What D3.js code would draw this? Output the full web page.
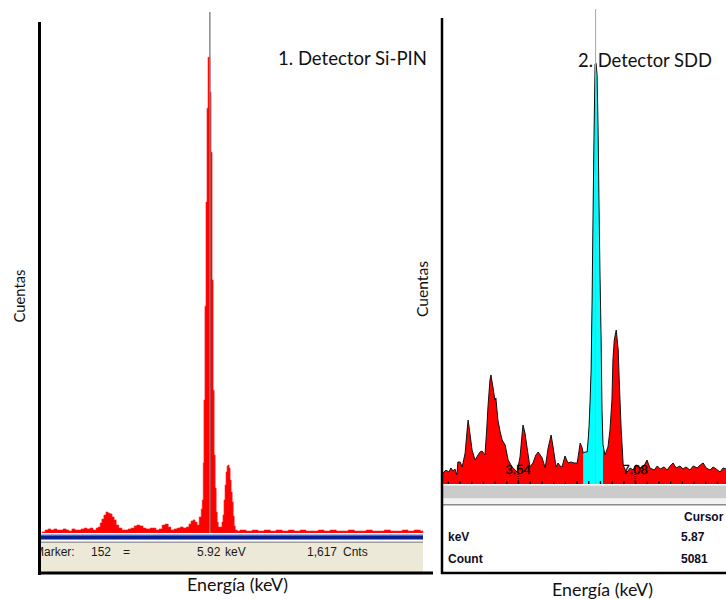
<!DOCTYPE html>
<html>
<head>
<meta charset="utf-8">
<script src="https://cdn.jsdelivr.net/npm/d3@7"></script>
<style>
  body { margin: 0; background: #fff; }
  svg { display: block; }
</style>
</head>
<body>
<svg id="chart" width="726" height="599"></svg>
<script>
// ---- panel 1: Si-PIN spectrum (keV, counts) ----
const p1Kev = [1.00, 1.09, 1.18, 1.26, 1.35, 1.44, 1.53, 1.62, 1.71, 1.79, 1.88, 1.97, 2.06, 2.15, 2.24, 2.32,
  2.41, 2.50, 2.59, 2.65, 2.71, 2.76, 2.82, 2.88, 2.94, 3.00, 3.06, 3.12, 3.18, 3.26, 3.35, 3.44, 3.53, 3.62,
  3.71, 3.79, 3.88, 3.97, 4.06, 4.18, 4.26, 4.35, 4.44, 4.53, 4.62, 4.71, 4.79, 4.88, 4.97, 5.06, 5.15, 5.24,
  5.32, 5.38, 5.44, 5.50, 5.56, 5.62, 5.68, 5.71, 5.74, 5.76, 5.79, 5.82, 5.85, 5.88, 5.94, 5.97, 6.00, 6.03,
  6.06, 6.09, 6.12, 6.15, 6.18, 6.29, 6.32, 6.35, 6.38, 6.41, 6.44, 6.47, 6.50, 6.53, 6.56, 6.59, 6.62, 6.65,
  6.68, 6.74, 6.82, 7.00, 7.18, 7.35, 7.53, 7.71, 7.88, 8.06, 8.24, 8.41, 8.59, 8.76, 8.94, 9.12, 9.29, 9.47,
  9.65, 9.82, 10.00, 10.18, 10.35, 10.53, 10.71, 10.88, 11.06, 11.24, 11.41, 11.59, 11.76, 11.94, 12.12, 12.20];
const p1Counts = [4, 11, 15, 11, 15, 11, 11, 15, 11, 7, 15, 11, 11, 15, 18, 15,
  18, 11, 18, 22, 37, 51, 66, 77, 73, 70, 59, 48, 29, 18, 11, 11, 15, 18,
  26, 29, 26, 18, 15, 18, 18, 11, 15, 29, 33, 22, 11, 15, 18, 22, 18, 22,
  33, 44, 48, 40, 29, 59, 88, 121, 257, 488, 832, 1214, 1558, 1745, 1617, 1397, 928, 524,
  286, 165, 77, 40, 22, 40, 66, 121, 176, 224, 246, 249, 238, 194, 150, 114, 62, 26,
  11, 7, 11, 7, 11, 7, 11, 7, 11, 7, 11, 7, 11, 7, 7, 11, 7, 11,
  7, 7, 11, 7, 7, 11, 7, 7, 11, 7, 7, 11, 7, 11, 7, 7];
const p1Marker = { channel: 152, kev: 5.92, counts: 1617 };

// ---- panel 2: SDD spectrum (keV, counts) ----
const p2Kev = [1.27, 1.36, 1.45, 1.51, 1.57, 1.63, 1.69, 1.72, 1.79, 1.85, 1.94, 2.00, 2.03, 2.09, 2.15, 2.24,
  2.33, 2.39, 2.45, 2.54, 2.60, 2.63, 2.69, 2.72, 2.78, 2.84, 2.87, 2.93, 3.00, 3.06, 3.15, 3.24, 3.36, 3.45,
  3.51, 3.60, 3.66, 3.69, 3.75, 3.81, 3.90, 3.99, 4.08, 4.15, 4.21, 4.27, 4.36, 4.45, 4.54, 4.60, 4.69, 4.75,
  4.81, 4.87, 4.96, 5.05, 5.14, 5.23, 5.33, 5.42, 5.48, 5.51, 5.57, 5.63, 5.66, 5.69, 5.72, 5.75, 5.78, 5.81,
  5.84, 5.87, 5.90, 5.93, 5.96, 5.99, 6.02, 6.05, 6.08, 6.11, 6.17, 6.26, 6.32, 6.38, 6.41, 6.45, 6.51, 6.57,
  6.60, 6.63, 6.66, 6.69, 6.72, 6.78, 6.84, 6.93, 7.02, 7.11, 7.23, 7.35, 7.44, 7.53, 7.66, 7.75, 7.84, 7.96,
  8.05, 8.14, 8.23, 8.32, 8.44, 8.53, 8.62, 8.74, 8.84, 8.96, 9.05, 9.14, 9.23, 9.35, 9.44, 9.53, 9.65, 9.74, 9.83];
const p2Counts = [133, 169, 145, 194, 157, 182, 109, 266, 266, 206, 375, 653, 774, 593, 411, 290,
  351, 387, 399, 351, 714, 932, 1258, 1319, 1174, 1016, 1041, 774, 629, 532, 472, 290, 206, 169,
  145, 327, 593, 714, 617, 448, 206, 254, 351, 387, 351, 315, 194, 436, 593, 448, 206, 254,
  218, 206, 339, 254, 266, 254, 254, 496, 436, 375, 387, 387, 532, 714, 1016, 1379, 2226, 3315,
  4283, 5081, 5090, 4950, 4320, 3352, 2505, 1827, 895, 472, 351, 448, 653, 1016, 1500, 1742, 1863, 1621,
  1258, 956, 653, 448, 230, 169, 145, 194, 169, 230, 194, 218, 290, 194, 169, 218, 182, 206,
  169, 218, 254, 194, 218, 182, 206, 169, 218, 194, 230, 254, 194, 169, 206, 182, 145, 194, 182];
const p2Roi = [5.51, 6.11];
const p2Cursor = { kev: 5.87, counts: 5081 };
const p2MajorTicks = [3.54, 7.08];
const p2MinorStep = 0.354;

const titles = ["1. Detector Si-PIN", "2. Detector SDD"];
const yTitle = "Cuentas";
const xTitle = "Energía (keV)";

const svg = d3.select("#chart");
svg.append("rect").attr("width", 726).attr("height", 599).attr("fill", "#fff");

const sans = "Lato, 'Open Sans', sans-serif";
const ui = "'Liberation Sans', Arial, sans-serif";

// scale a text so it spans a given width (Calibri is not installed)
function fitText(t, width) {
  const w = t.node().getComputedTextLength();
  t.attr("font-size", parseFloat(t.attr("font-size")) * width / w);
  return t;
}

// ================= panel 1 =================
const x1 = d3.scaleLinear().domain([1.0, 12.2]).range([42, 423]);
const y1 = d3.scaleLinear().domain([0, 1900]).range([533, 15]);
const data1 = p1Kev.map((k, i) => ({ k, c: p1Counts[i] }));

const g1 = svg.append("g");
g1.append("path")
  .datum(data1)
  .attr("fill", "#ff0000")
  .attr("stroke", "#ff2020")
  .attr("stroke-width", 0.6)
  .attr("d", d3.area().x(d => x1(d.k)).y0(y1(0)).y1(d => y1(d.c)).curve(d3.curveStepAfter));

// marker line
g1.append("line")
  .attr("x1", x1(p1Marker.kev) + 0.5).attr("x2", x1(p1Marker.kev) + 0.5)
  .attr("y1", 12).attr("y2", y1(0))
  .attr("stroke", "#808080").attr("stroke-width", 1.4);

// blue bars and status strip under spectrum
g1.append("rect").attr("x", 40).attr("y", 533).attr("width", 383).attr("height", 1.5).attr("fill", "#ffffff");
g1.append("rect").attr("x", 40).attr("y", 534.5).attr("width", 383).attr("height", 1.5).attr("fill", "#3b6fd8");
g1.append("rect").attr("x", 40).attr("y", 536).attr("width", 383).attr("height", 3.5).attr("fill", "#0a1f8f");
g1.append("rect").attr("x", 40).attr("y", 541.5).attr("width", 383).attr("height", 1.5).attr("fill", "#9d9d9d");
g1.append("rect").attr("x", 40).attr("y", 543).attr("width", 383).attr("height", 29).attr("fill", "#ece9d8");

svg.append("clipPath").attr("id", "statusClip")
  .append("rect").attr("x", 38).attr("y", 540).attr("width", 385).attr("height", 32);

const status = g1.append("g").attr("clip-path", "url(#statusClip)")
  .attr("font-family", ui).attr("font-size", 12).attr("fill", "#1a1a1a");
[["Marker:", 34], [String(p1Marker.channel), 91], ["=", 123], [p1Marker.kev.toFixed(2), 197],
 ["keV", 225], [d3.format(",")(p1Marker.counts), 307], ["Cnts", 343]].forEach(([t, x]) => {
  status.append("text").attr("x", x).attr("y", 556).text(t);
});

// frame
g1.append("line").attr("x1", 39.5).attr("x2", 39.5).attr("y1", 22).attr("y2", 575)
  .attr("stroke", "#000").attr("stroke-width", 3);
g1.append("line").attr("x1", 38).attr("x2", 433).attr("y1", 573).attr("y2", 573)
  .attr("stroke", "#000").attr("stroke-width", 3);

// ================= panel 2 =================
const x2 = d3.scaleLinear().domain([1.27, 9.83]).range([443, 726]);
const y2 = d3.scaleLinear().domain([0, 5081]).range([484, 64]);
const data2 = p2Kev.map((k, i) => ({ k, c: p2Counts[i] }));

const g2 = svg.append("g");
const area2 = d3.area().x(d => x2(d.k)).y0(y2(0)).y1(d => y2(d.c));
g2.append("path").datum(data2).attr("fill", "#ff0000").attr("d", area2);

svg.append("clipPath").attr("id", "roiClip")
  .append("rect").attr("x", x2(p2Roi[0])).attr("y", 0)
  .attr("width", x2(p2Roi[1]) - x2(p2Roi[0])).attr("height", y2(0));
g2.append("path").datum(data2).attr("fill", "#00ffff").attr("clip-path", "url(#roiClip)").attr("d", area2);

g2.append("path").datum(data2)
  .attr("fill", "none").attr("stroke", "#111").attr("stroke-width", 1)
  .attr("d", d3.line().x(d => x2(d.k)).y(d => y2(d.c)));

// cursor line
g2.append("line")
  .attr("x1", x2(p2Cursor.kev) + 0.5).attr("x2", x2(p2Cursor.kev) + 0.5)
  .attr("y1", 9).attr("y2", y2(0))
  .attr("stroke", "#a8a8a8").attr("stroke-width", 1);

// minor ticks
const minor = d3.range(1, 30).map(i => +(i * p2MinorStep).toFixed(3))
  .filter(v => v > x2.domain()[0] && v < x2.domain()[1]);
const axis2 = g2.append("g").attr("transform", `translate(0,${y2(0)})`)
  .call(d3.axisTop(x2).tickValues(minor).tickSize(3).tickFormat(""));
axis2.select(".domain").remove();
axis2.selectAll(".tick line").attr("stroke", "#000").attr("stroke-width", 1.3);

// major ticks + labels
p2MajorTicks.forEach(v => {
  g2.append("line").attr("x1", x2(v)).attr("x2", x2(v)).attr("y1", 466).attr("y2", y2(0))
    .attr("stroke", "#000").attr("stroke-width", 1).attr("stroke-dasharray", "1,1");
  g2.append("text").attr("x", x2(v)).attr("y", 474).attr("text-anchor", "middle")
    .attr("font-family", ui).attr("font-size", 13).attr("fill", "#000")
    .attr("stroke", "#000").attr("stroke-width", 0.3).text(v.toFixed(2));
});

// bars and table under spectrum
g2.append("rect").attr("x", 443).attr("y", 485.5).attr("width", 283).attr("height", 13).attr("fill", "#cbcbcb");
g2.append("rect").attr("x", 443).attr("y", 498.5).attr("width", 283).attr("height", 5.5).attr("fill", "#f2f2f2");
g2.append("rect").attr("x", 443).attr("y", 504).attr("width", 283).attr("height", 1.5).attr("fill", "#8c8c8c");

const table = g2.append("g").attr("font-family", ui).attr("font-weight", "bold").attr("fill", "#0d0d26");
table.append("text").attr("x", 684).attr("y", 521).attr("font-size", 12).text("Cursor");
table.append("text").attr("x", 448).attr("y", 541).attr("font-size", 12).text("keV");
table.append("text").attr("x", 681).attr("y", 541).attr("font-size", 12).text(p2Cursor.kev.toFixed(2));
table.append("text").attr("x", 448).attr("y", 563).attr("font-size", 12).text("Count");
table.append("text").attr("x", 681).attr("y", 563).attr("font-size", 12).text(String(p2Cursor.counts));

// frame
g2.append("line").attr("x1", 442).attr("x2", 442).attr("y1", 18).attr("y2", 574)
  .attr("stroke", "#000").attr("stroke-width", 2.5);
g2.append("line").attr("x1", 441).attr("x2", 726).attr("y1", 573).attr("y2", 573)
  .attr("stroke", "#000").attr("stroke-width", 2.5);

// ================= titles and axis labels =================
const lab = svg.append("g").attr("font-family", sans).attr("fill", "#111");
fitText(lab.append("text").attr("x", 278).attr("y", 65).attr("font-size", 20).text(titles[0]), 149);
fitText(lab.append("text").attr("x", 578).attr("y", 67).attr("font-size", 20).text(titles[1]), 134);

fitText(lab.append("text").attr("x", 237.5).attr("y", 591).attr("text-anchor", "middle")
  .attr("font-size", 20).text(xTitle), 101);
fitText(lab.append("text").attr("x", 602.5).attr("y", 596).attr("text-anchor", "middle")
  .attr("font-size", 20).text(xTitle), 101);

fitText(lab.append("text").attr("transform", "translate(25,296) rotate(-90)").attr("text-anchor", "middle")
  .attr("font-size", 18).text(yTitle), 53);
fitText(lab.append("text").attr("transform", "translate(428,289) rotate(-90)").attr("text-anchor", "middle")
  .attr("font-size", 18).text(yTitle), 56);
</script>
</body>
</html>
